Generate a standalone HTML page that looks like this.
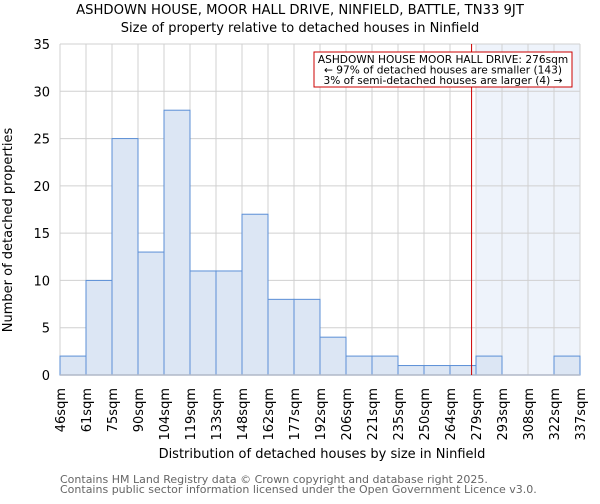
<!DOCTYPE html>
<html><head><meta charset="utf-8"><style>
body{margin:0;background:#fff;font-family:"DejaVu Sans","Liberation Sans",sans-serif}
svg text{font-family:"DejaVu Sans","Liberation Sans",sans-serif}
</style></head><body>
<svg id="c" width="600" height="500" xmlns="http://www.w3.org/2000/svg">
<text x="300" y="14" text-anchor="middle" font-size="13.2">ASHDOWN HOUSE, MOOR HALL DRIVE, NINFIELD, BATTLE, TN33 9JT</text>
<text x="300" y="32" text-anchor="middle" font-size="13">Size of property relative to detached houses in Ninfield</text>
<g id="grid"></g><g id="bars"></g><g id="axes"></g>
<text x="322" y="458" text-anchor="middle" font-size="13">Distribution of detached houses by size in Ninfield</text>
<text transform="translate(12,230) rotate(-90)" text-anchor="middle" font-size="13">Number of detached properties</text>
<text x="60" y="483" font-size="11" fill="#666">Contains HM Land Registry data © Crown copyright and database right 2025.</text>
<text x="60" y="493" font-size="11" fill="#666">Contains public sector information licensed under the Open Government Licence v3.0.</text>
</svg>
<script>
const categories=["46sqm","61sqm","75sqm","90sqm","104sqm","119sqm","133sqm","148sqm","162sqm","177sqm","192sqm","206sqm","221sqm","235sqm","250sqm","264sqm","279sqm","293sqm","308sqm","322sqm","337sqm"];
const counts=[2,10,25,13,28,11,11,17,8,8,4,2,2,1,1,1,2,0,0,2];
const yTicks=[0,5,10,15,20,25,30,35];
const markerBin=15.83;
const shadeBin=16;
const X0=60,X1=580,Y0=375,Y1=44,YMAX=35;
const bw=(X1-X0)/counts.length;
const xs=i=>X0+i*bw;
const ys=v=>Y0-(v/YMAX)*(Y0-Y1);
const NS="http://www.w3.org/2000/svg";
function mk(t,a,p){const e=document.createElementNS(NS,t);for(const k in a)e.setAttribute(k,a[k]);p.appendChild(e);return e;}
const grid=document.getElementById('grid'),bars=document.getElementById('bars'),axes=document.getElementById('axes');
const mx=xs(markerBin);
const sx=xs(shadeBin);
const shade=mk('rect',{x:sx,y:Y1,width:X1-sx,height:Y0-Y1,fill:'#eef3fb'},grid);


for(let i=0;i<=counts.length;i++){const l=mk('line',{x1:xs(i),x2:xs(i),y1:Y1,y2:Y0,stroke:'#d0d0d0'},grid);

}
yTicks.forEach(t=>{const l=mk('line',{x1:X0,x2:X1,y1:ys(t),y2:ys(t),stroke:'#d0d0d0'},grid);


const tx=mk('text',{x:X0-10,y:ys(t)+5,'text-anchor':'end','font-size':'13'},axes);tx.textContent=t;

});
counts.forEach((v,i)=>{if(v<=0)return;const r=mk('rect',{x:xs(i),y:ys(v),width:bw,height:Y0-ys(v),fill:'#dce6f4',stroke:'#5b8fd6','stroke-width':1},bars);

});
const ax=mk('line',{x1:X0,x2:X1,y1:Y0,y2:Y0,stroke:'#b0b8c8','stroke-width':1.5},axes);


categories.forEach((c,i)=>{const x=xs(i)+5;const t=mk('text',{transform:`translate(${x},${Y0+13}) rotate(-90)`,'text-anchor':'end','font-size':'13'},axes);t.textContent=c;

});
const ml=mk('line',{x1:mx,x2:mx,y1:Y1,y2:Y0,stroke:'#cc0000','stroke-width':1},axes);


const box=mk('rect',{x:314,y:52,width:258,height:35,fill:'#fff',stroke:'#cc0000','stroke-width':1},axes);


["ASHDOWN HOUSE MOOR HALL DRIVE: 276sqm","← 97% of detached houses are smaller (143)","3% of semi-detached houses are larger (4) →"].forEach((s,k)=>{const t=mk('text',{x:443,y:63+k*10.5,'text-anchor':'middle','font-size':'10.6'},axes);t.textContent=s;

});
</script>
</body></html>
